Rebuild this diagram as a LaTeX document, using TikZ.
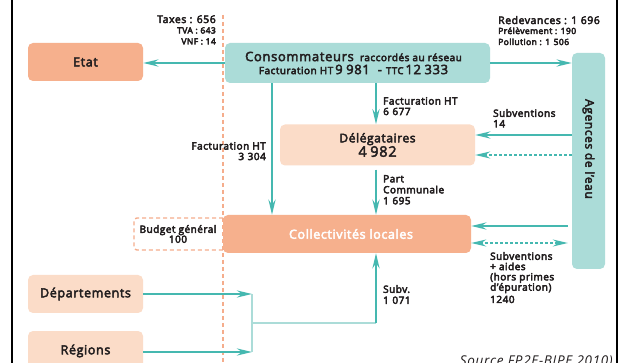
\documentclass[tikz,border=0pt]{standalone}
\usepackage{fontspec}
\setmainfont{Open Sans}[LetterSpace=5]
\usetikzlibrary{arrows.meta,calc}
\definecolor{arrteal}{HTML}{45B8B0}
\definecolor{lteal}{HTML}{ABDCD8}
\definecolor{salmon}{HTML}{F6B08D}
\definecolor{peach}{HTML}{FBDCC8}
\definecolor{dorange}{HTML}{F5AD8C}
\definecolor{txt}{HTML}{231F20}
\newcommand{\nsp}{\hspace{3.5pt}}
\newcommand{\medw}{\special{pdf:literal direct 2 Tr 0.45 w}}
\newcommand{\thinw}{\special{pdf:literal direct 0 Tr}}
\begin{document}
\begin{tikzpicture}[x=1pt,y=-1pt,
  every node/.append style={execute at begin node=\medw},
  box/.style={rounded corners=5pt, inner sep=2pt, align=center, text=txt},
  boxS/.style={box, fill=salmon},
  boxP/.style={box, fill=peach},
  boxT/.style={box, fill=lteal},
  arr/.style={draw=arrteal, line width=2.4pt, -{Stealth[length=15pt,width=7pt,inset=5pt]}},
  darr/.style={draw=arrteal, line width=1.4pt, dash pattern=on 3pt off 2pt, -{Stealth[length=15pt,width=7pt,inset=5pt]}},
  ddarr/.style={draw=arrteal, line width=1.4pt, dash pattern=on 3pt off 2pt, {Stealth[length=15pt,width=7pt,inset=5pt]}-{Stealth[length=15pt,width=7pt,inset=5pt]}},
  brk/.style={draw=lteal, line width=2pt},
  frame/.style={draw=black, line width=1.5pt},
  odash/.style={draw=dorange, line width=1.4pt, dash pattern=on 4pt off 3pt},
  lab/.style={text=txt, inner sep=0pt, align=left},
  f9/.style={font=\fontsize{10}{10.5}\selectfont},
  f8/.style={font=\fontsize{8.5}{9}\selectfont}
]
\path[use as bounding box, clip] (0,0) rectangle (621,363);
\fill[white] (0,0) rectangle (621,363);

% frame lines
\draw[frame] (12,0) -- (12,363);
\draw[frame] (617,0) -- (617,363);

% dashed orange separator and budget box
\draw[odash] (223,15) -- (223,363);
\draw[odash, rounded corners=3pt] (223,218) -- (134,218) -- (134,250) -- (223,250);

% boxes
\node[boxS, minimum width=115, minimum height=38, font=\fontsize{12.5}{14}\selectfont] (etat) at (85.5,62) {Etat};
\node[boxT, minimum width=265, minimum height=40] (cons) at (357.5,63)
  {{\fontsize{13}{13}\selectfont Consommateurs}\ \ {\fontsize{10}{11}\selectfont raccordés au réseau}\hspace*{8pt}\\[1pt]
   {\fontsize{10}{11}\selectfont Facturation HT}\hspace{2pt}{\fontsize{13}{13}\selectfont 9\nsp981\ \ -\ }{\fontsize{9.5}{11}\selectfont TTC}\hspace{2pt}{\fontsize{13}{13}\selectfont 12\nsp333}\hspace*{8pt}};
\node[boxT, minimum width=33, minimum height=216] (ag) at (588.5,161) {};
\node[rotate=-90, font=\fontsize{12}{13}\selectfont, text=txt] (agt) at (588.5,149) {Agences de l'eau};
\node[boxP, minimum width=195, minimum height=41] (del) at (377.5,145)
  {{\fontsize{12}{12}\selectfont Délégataires}\\[0pt]{\fontsize{14.5}{14}\selectfont 4\nsp982}};
\node[boxS, minimum width=248, minimum height=38, text=white, font=\fontsize{12.5}{14}\selectfont] (coll) at (347,234) {\hspace*{8pt}Collectivités locales};
\node[lab, align=center, font=\fontsize{10}{10}\selectfont] (budg) at (178,234) {Budget général\\100};
\node[boxP, minimum width=115, minimum height=38, font=\fontsize{12.5}{14}\selectfont] (dep) at (85.5,294) {Départements};
\node[boxP, minimum width=115, minimum height=40, font=\fontsize{12.5}{14}\selectfont] (reg) at (85.5,351) {Régions};

% helper coordinates
\coordinate (xa) at (272,0);
\coordinate (xb) at (376,0);
\coordinate (bt) at (252,294);
\coordinate (bb) at (252,352);
\coordinate (bm) at (252,323);
\coordinate (bu) at (376,323);
\coordinate (y1) at (0,135);
\coordinate (y2) at (0,155);
\coordinate (y3) at (0,226);
\coordinate (y4) at (0,243);

% connectors
\draw[arr] (cons.west) -- (cons.west -| etat.east);
\draw[arr] (cons.east) -- (cons.east -| ag.west);
\draw[arr] (cons.south -| xa) -- (coll.north -| xa);
\draw[arr] (cons.south -| xb) -- (del.north -| xb);
\draw[arr] ([yshift=-4pt]del.south -| xb) -- (coll.north -| xb);
\draw[arr] (ag.west |- y1) -- (del.east |- y1);
\draw[darr] (ag.west |- y2) -- (del.east |- y2);
\draw[arr] ([xshift=-4pt]ag.west |- y3) -- (coll.east |- y3);
\draw[ddarr] (coll.east |- y4) -- ([xshift=-4pt]ag.west |- y4);
\draw[arr] (dep.east) -- (dep.east -| bt);
\draw[arr] (reg.east |- bb) -- (bb);
\draw[brk] (bt) -- (bb);
\draw[brk] (bm) -- (bu);
\draw[arr] (bu) -- (coll.south -| bu);

% labels
\node[lab, anchor=base east, font=\fontsize{10.5}{11}\selectfont] at (216,23) {Taxes : 656};
\node[lab, anchor=base east, f8] at (216,33.5) {TVA : 643};
\node[lab, anchor=base east, f8] at (216,44.5) {VNF : 14};

\node[lab, anchor=base west, font=\fontsize{10.5}{11}\selectfont] at (498,24) {Redevances : 1\nsp696};
\node[lab, anchor=base west, f8] at (498,34) {Prélèvement : 190};
\node[lab, anchor=base west, f8] at (498,45) {Pollution : 1\nsp506};

\node[lab, anchor=north west, f9] at (383,97) {Facturation HT\\6\nsp677};
\node[lab, anchor=north west, f9] at (493,109) {Subventions\\14};
\node[lab, anchor=north east, align=right, f9] at (266,142) {Facturation HT\\3\nsp304};
\node[lab, anchor=north west, font=\fontsize{10}{11}\selectfont] at (383,175) {Part\\Communale\\1\nsp695};
\node[lab, anchor=north west, font=\fontsize{10}{10.3}\selectfont] at (490,252) {Subventions\\+ aides\\(hors primes\\d'épuration)\\[2pt]1240};
\node[lab, anchor=north west, font=\fontsize{10}{11}\selectfont] at (383,285) {Subv.\\1\nsp071};
\node[lab, anchor=base east, font=\fontsize{13.5}{14}\selectfont\itshape, execute at begin node=\thinw] at (613,365) {Source FP2E-BIPE 2010)};
\end{tikzpicture}
\end{document}
